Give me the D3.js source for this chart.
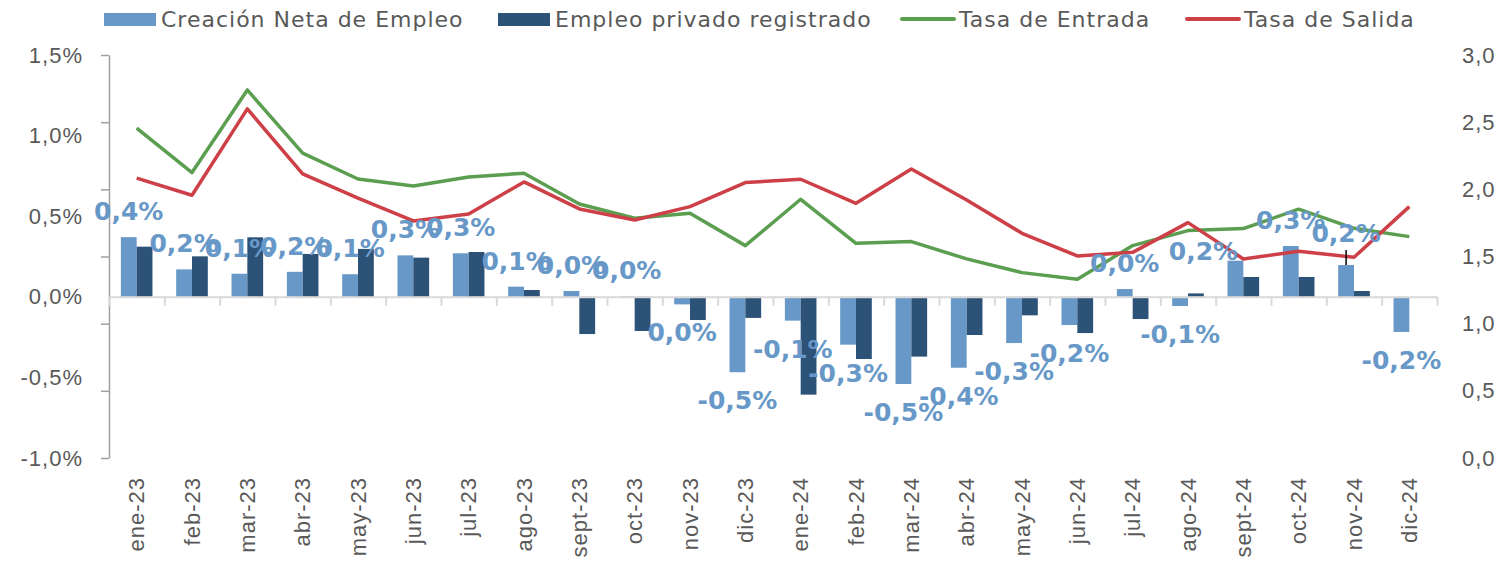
<!DOCTYPE html>
<html lang="es">
<head>
<meta charset="utf-8">
<title>Creación neta de empleo</title>
<script src="https://cdn.jsdelivr.net/npm/d3@7"></script>
<style>
  body { margin: 0; background: #fff; }
  svg { display: block; font-family: "DejaVu Sans", Verdana, sans-serif; }
  .plain { letter-spacing: 1px; }
</style>
</head>
<body>
<svg id="chart" width="1504" height="567"></svg>
<script>
// months on the x axis
const months = ["ene-23", "feb-23", "mar-23", "abr-23", "may-23", "jun-23", "jul-23", "ago-23",
  "sept-23", "oct-23", "nov-23", "dic-23", "ene-24", "feb-24", "mar-24", "abr-24",
  "may-24", "jun-24", "jul-24", "ago-24", "sept-24", "oct-24", "nov-24", "dic-24"];

// bars, left axis (%)
const creacionNeta = [0.37, 0.17, 0.143, 0.155, 0.14, 0.257, 0.27, 0.063,
  0.036, 0.003, -0.047, -0.468, -0.148, -0.297, -0.541, -0.44,
  -0.287, -0.175, 0.048, -0.057, 0.224, 0.315, 0.197, -0.218];
const empleoPrivado = [0.311, 0.251, 0.369, 0.266, 0.297, 0.243, 0.278, 0.042,
  -0.231, -0.212, -0.144, -0.131, -0.607, -0.386, -0.371, -0.237,
  -0.115, -0.225, -0.138, 0.021, 0.123, 0.123, 0.036, null];

// lines, right axis
const tasaEntrada = [2.455, 2.125, 2.74, 2.269, 2.077, 2.025, 2.092, 2.12,
  1.891, 1.785, 1.822, 1.581, 1.926, 1.598, 1.611, 1.482,
  1.38, 1.33, 1.581, 1.693, 1.708, 1.852, 1.71, 1.648];
const tasaSalida = [2.083, 1.956, 2.599, 2.115, 1.934, 1.765, 1.817, 2.055,
  1.854, 1.772, 1.871, 2.05, 2.075, 1.896, 2.152, 1.921,
  1.673, 1.504, 1.531, 1.752, 1.482, 1.539, 1.494, 1.871];

// axis ticks
const leftTicks = [-1.0, -0.5, 0.0, 0.5, 1.0, 1.5];
const rightTicks = [0.0, 0.5, 1.0, 1.5, 2.0, 2.5, 3.0];

// the small black whisker above the nov-24 bar
const whisker = { month: "nov-24", from: 0.197, to: 0.29 };

const barSeries = [
  { key: "Creación Neta de Empleo", values: creacionNeta, color: "#6798c7" },
  { key: "Empleo privado registrado", values: empleoPrivado, color: "#2d5278" }
];
const lineSeries = [
  { key: "Tasa de Entrada", values: tasaEntrada, color: "#5b9e50" },
  { key: "Tasa de Salida", values: tasaSalida, color: "#ce4048" }
];

const loc = d3.formatLocale({ decimal: ",", thousands: ".", grouping: [3], currency: ["", " €"], minus: "-" });
const f1 = loc.format(".1f");

const svg = d3.select("#chart");
const plotLeft = 109, plotRight = 1437, plotTop = 55, plotBottom = 458;
const textColor = "#595959";

const x = d3.scaleBand().domain(months).range([plotLeft, plotRight]);
const xInner = d3.scaleBand().domain(barSeries.map(s => s.key))
  .range([0, x.bandwidth()]).paddingInner(0).paddingOuter(0.75);
const yL = d3.scaleLinear().domain([-1, 1.5]).range([plotBottom, plotTop]);
const yR = d3.scaleLinear().domain([0, 3]).range([plotBottom, plotTop]);
const cx = m => x(m) + x.bandwidth() / 2;

// left axis: line + ticks sit on the right-axis steps, labels on the % scale
const axL = svg.append("g").attr("transform", `translate(${plotLeft},0)`)
  .call(d3.axisLeft(yR).tickValues(rightTicks).tickFormat("").tickSize(8).tickSizeOuter(0));
axL.selectAll("path, line").attr("stroke", "#a0a0a0").attr("stroke-width", 1.5);

const axLlab = svg.append("g").attr("transform", `translate(${plotLeft},0)`)
  .call(d3.axisLeft(yL).tickValues(leftTicks).tickFormat(d => f1(d) + "%").tickSize(0).tickPadding(26));
axLlab.select(".domain").remove();
axLlab.selectAll("text").attr("class", "plain").attr("fill", textColor).style("font-size", "22px");

// right axis labels only
const axR = svg.append("g").attr("transform", `translate(${plotRight},0)`)
  .call(d3.axisRight(yR).tickValues(rightTicks).tickFormat(f1).tickSize(0).tickPadding(25));
axR.select(".domain").remove();
axR.selectAll("text").attr("class", "plain").attr("fill", textColor).style("font-size", "22px");

// bars
svg.append("g").selectAll("g")
  .data(barSeries)
  .join("g")
  .attr("fill", s => s.color)
  .selectAll("rect")
  .data(s => months.map((m, i) => ({ m, v: s.values[i], k: s.key })).filter(d => d.v != null))
  .join("rect")
  .attr("x", d => x(d.m) + xInner(d.k))
  .attr("width", xInner.bandwidth())
  .attr("y", d => yL(Math.max(0, d.v)))
  .attr("height", d => Math.abs(yL(d.v) - yL(0)));

// x axis: zero line with boundary ticks
const xEdges = d3.scaleLinear().domain([0, months.length]).range([plotLeft, plotRight]);
const axX = svg.append("g").attr("transform", `translate(0,${yL(0)})`)
  .call(d3.axisBottom(xEdges).tickValues(d3.range(0, months.length + 1)).tickFormat("").tickSize(9).tickSizeOuter(0));
axX.selectAll("path, line").attr("stroke", "#d9d9d9").attr("stroke-width", 2);

// month labels, rotated
const labelEnd = 477 - yL(0);
const axXlab = svg.append("g").attr("transform", `translate(0,${yL(0)})`)
  .call(d3.axisBottom(x).tickSize(0));
axXlab.select(".domain").remove();
axXlab.selectAll("text")
  .attr("class", "plain")
  .attr("transform", "rotate(-90)")
  .attr("x", -labelEnd).attr("y", 0).attr("dy", "0.35em")
  .attr("text-anchor", "end")
  .attr("fill", textColor).style("font-size", "22px");

// lines
const line = d3.line().x((d, i) => cx(months[i])).y(d => yR(d));
svg.append("g").selectAll("path")
  .data(lineSeries)
  .join("path")
  .attr("d", s => line(s.values))
  .attr("fill", "none")
  .attr("stroke", s => s.color)
  .attr("stroke-width", 3.5)
  .attr("stroke-linejoin", "round");

// whisker
const wx = x(whisker.month) + xInner(barSeries[0].key) + xInner.bandwidth() / 2;
svg.append("line")
  .attr("x1", wx).attr("x2", wx)
  .attr("y1", yL(whisker.from)).attr("y2", yL(whisker.to))
  .attr("stroke", "#000").attr("stroke-width", 1.5);

// data labels for Creación Neta de Empleo
const nudge = { "sept-24": [-32, 16], "nov-24": [0, -6] };
svg.append("g").selectAll("text")
  .data(months.map((m, i) => ({ m, v: creacionNeta[i] })))
  .join("text")
  .attr("x", d => x(d.m) + xInner(barSeries[0].key) + xInner.bandwidth() / 2 + (nudge[d.m] ? nudge[d.m][0] : 0))
  .attr("y", d => (d.v >= 0 ? yL(d.v) - 17 : yL(d.v) + 37) + (nudge[d.m] ? nudge[d.m][1] : 0))
  .attr("text-anchor", "middle")
  .attr("fill", "#6798c7")
  .style("font-size", "25px").style("font-weight", "bold")
  .text(d => f1(d.v) + "%");

// legend
const legendItems = [
  { s: barSeries[0], type: "bar", x: 104 },
  { s: barSeries[1], type: "bar", x: 498 },
  { s: lineSeries[0], type: "line", x: 902 },
  { s: lineSeries[1], type: "line", x: 1187 }
];
const lg = svg.append("g").selectAll("g").data(legendItems).join("g")
  .attr("transform", d => `translate(${d.x},0)`);
lg.filter(d => d.type === "bar").append("rect")
  .attr("x", 0).attr("y", 13).attr("width", 52).attr("height", 13)
  .attr("fill", d => d.s.color);
lg.filter(d => d.type === "line").append("line")
  .attr("x1", 0).attr("x2", 52).attr("y1", 19).attr("y2", 19)
  .attr("stroke", d => d.s.color).attr("stroke-width", 4).attr("stroke-linecap", "round");
lg.append("text")
  .attr("class", "plain")
  .attr("x", 57).attr("y", 27)
  .attr("fill", textColor).style("font-size", "22px")
  .text(d => d.s.key);
</script>
</body>
</html>
